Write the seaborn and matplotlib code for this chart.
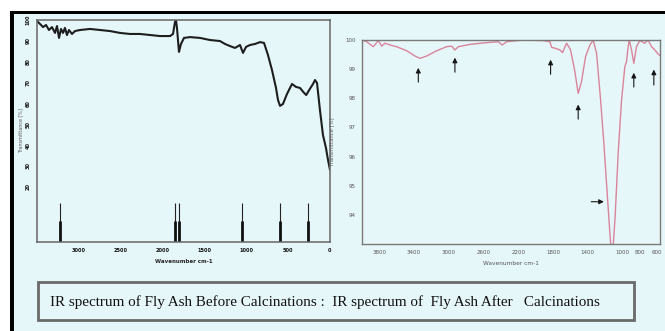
import matplotlib
matplotlib.use("Agg")
import matplotlib.pyplot as plt
import seaborn as sns
import pandas as pd
from matplotlib.patches import Rectangle
from matplotlib.lines import Line2D

sns.set_style("white")
plt.rcParams['font.family'] = ['DejaVu Sans']

BG = "#e6f7fa"

# ---------------- data: before calcination (left) ----------------
before_wn = [3500, 3464, 3428, 3392, 3357, 3321, 3285, 3261, 3237, 3213, 3189, 3166, 3142, 3118,
             3082, 3046, 2986, 2867, 2747, 2628, 2509, 2389, 2270, 2150, 2031, 1911, 1875, 1852,
             1840, 1828, 1804, 1780, 1744, 1672, 1553, 1433, 1314, 1254, 1195, 1135, 1075, 1039,
             1003, 956, 896, 836, 788, 741, 693, 645, 621, 597, 562, 514, 454, 406, 358, 320, 284,
             249, 203, 179, 155, 120, 84, 48, 24, 0]
before_T = [99.5, 98.1, 96.6, 97.6, 95.2, 96.6, 93.8, 97.1, 91.4, 95.7, 93.8, 96.2, 92.8, 95.2,
            93.3, 94.7, 95.2, 95.7, 95.2, 94.7, 93.8, 93.3, 93.3, 92.8, 92.3, 92.3, 93.3, 99.0,
            100.0, 96.2, 84.7, 88.5, 91.4, 91.8, 91.4, 90.4, 89.9, 88.5, 87.5, 86.6, 88.0, 84.2,
            87.1, 88.0, 88.5, 89.4, 89.0, 83.2, 76.0, 67.4, 61.6, 58.8, 59.7, 64.5, 69.3, 67.9,
            67.4, 65.5, 64.0, 66.4, 69.3, 71.2, 69.8, 56.8, 44.8, 38.6, 32.9, 28.1]
before_peaks = [3225, 1852, 1804, 1051, 597, 263]
before_xticks = [3000, 2500, 2000, 1500, 1000, 500, 0]
before_yticks = [100, 90, 80, 70, 60, 50, 40, 30, 20]

# ---------------- data: after calcination (right) ----------------
after_wn = [3996, 3946, 3870, 3812, 3773, 3735, 3677, 3600, 3485, 3389, 3332, 3255, 3140, 3024,
            2967, 2929, 2890, 2756, 2564, 2430, 2384, 2333, 2142, 1912, 1834, 1815, 1777, 1719,
            1688, 1642, 1596, 1546, 1508, 1470, 1423, 1373, 1335, 1296, 1250, 1212, 1174, 1143,
            1131, 1105, 1082, 1047, 1008, 970, 951, 932, 920, 893, 867, 836, 798, 740, 702, 663,
            625, 587, 548]
after_T = [100.0, 99.94, 99.77, 99.98, 99.79, 99.89, 99.83, 99.77, 99.63, 99.45, 99.37, 99.45,
           99.63, 99.77, 99.79, 99.66, 99.77, 99.85, 99.91, 99.94, 99.83, 99.94, 100.0, 99.98,
           99.94, 99.75, 99.72, 99.66, 99.57, 99.89, 99.66, 98.91, 98.17, 98.57, 99.43, 99.83,
           100.0, 99.54, 97.95, 96.46, 94.75, 93.39, 92.92, 92.92, 93.95, 96.12, 97.95, 99.09,
           99.26, 99.77, 100.0, 99.66, 99.20, 99.77, 99.98, 99.89, 100.0, 99.77, 99.66, 99.52,
           99.43]
arrow_wn = [3351, 2929, 1826, 1508, 867, 636]
arrow_tip = [99.14, 99.49, 99.42, 97.88, 98.97, 99.08]
arrow_tail = [98.46, 98.80, 98.73, 97.19, 98.29, 98.36]
harrow_from = [1390, 94.45]
harrow_to = [1180, 94.45]
after_xticks = [3800, 3600, 3400, 3200, 3000, 2800, 2600, 2400, 2200, 2000, 1800, 1600, 1400,
                1200, 1000, 800, 600]
after_xlabels = ["3800", "", "3400", "", "3000", "", "2600", "", "2200", "", "1800", "", "1400",
                 "", "1000", "800", "600"]
after_yticks = [94, 95, 96, 97, 98, 99, 100]

caption = "IR spectrum of Fly Ash Before Calcinations :  IR spectrum of  Fly Ash After   Calcinations"

W, H = 665, 331
fig = plt.figure(figsize=(W / 100, H / 100), dpi=100)
fig.patch.set_facecolor(BG)

def px_axes(x0, y0, x1, y1):
    return fig.add_axes([x0 / W, 1 - y1 / H, (x1 - x0) / W, (y1 - y0) / H])

# white outer margin and black frame lines (top and left)
fig.add_artist(Rectangle((0, 1 - 11 / H), 1, 11 / H, transform=fig.transFigure,
                         facecolor="white", edgecolor="none"))
fig.add_artist(Rectangle((0, 0), 10 / W, 1, transform=fig.transFigure,
                         facecolor="white", edgecolor="none"))
fig.add_artist(Rectangle((10 / W, 1 - 14 / H), 1 - 10 / W, 3 / H, transform=fig.transFigure,
                         facecolor="black", edgecolor="none"))
fig.add_artist(Rectangle((10 / W, 0), 3.5 / W, 1 - 11 / H, transform=fig.transFigure,
                         facecolor="black", edgecolor="none"))

# ---------------- left panel ----------------
axL = px_axes(37, 20, 330, 242)
axL.set_facecolor(BG)
dfb = pd.DataFrame({"wn": before_wn, "T": before_T})
sns.lineplot(data=dfb, x="wn", y="T", ax=axL, color="#1e1e1e", lw=1.5, sort=False,
             estimator=None)
axL.set_xlim(3500, 0)
axL.set_ylim(-6.5, 100)
axL.vlines(before_peaks, -6.5, 12.2, color="#222222", lw=0.8)
axL.vlines(before_peaks, -6.5, 3.5, color="#111111", lw=2.0)
axL.set_xticks(before_xticks)
axL.set_xticklabels([str(v) for v in before_xticks], fontsize=3.6, fontweight="bold")
axL.set_yticks(before_yticks)
axL.set_yticklabels([str(v) for v in before_yticks], fontsize=3.6, fontweight="bold",
                    rotation=90, va="center")
axL.tick_params(axis="both", direction="out", length=2.5, width=0.7, pad=2, colors="#111111")
axL.set_xlabel("Wavenumber cm-1", fontsize=4, fontweight="bold", labelpad=4)
axL.set_ylabel("Transmittance [%]", fontsize=3.5, color="#555555", labelpad=2)
for s in axL.spines.values():
    s.set_color("#666666")
    s.set_linewidth(1.1)

# ---------------- right panel ----------------
axR = px_axes(362, 40, 660, 244)
axR.set_facecolor(BG)
dfa = pd.DataFrame({"wn": after_wn, "T": after_T})
sns.lineplot(data=dfa, x="wn", y="T", ax=axR, color="#d9849a", lw=1.0, sort=False,
             estimator=None)
axR.set_xlim(4000, 565)
axR.set_ylim(93.0, 100.0)
for xw, tp, tl in zip(arrow_wn, arrow_tip, arrow_tail):
    axR.annotate("", xy=(xw, tp), xytext=(xw, tl),
                 arrowprops=dict(arrowstyle="-|>", color="#151515", lw=0.8,
                                 mutation_scale=7))
axR.annotate("", xy=tuple(harrow_to), xytext=tuple(harrow_from),
             arrowprops=dict(arrowstyle="-|>", color="#151515", lw=0.8, mutation_scale=7))
axR.set_xticks(after_xticks)
axR.set_xticklabels(after_xlabels, fontsize=4, color="#555555")
axR.set_yticks(after_yticks)
axR.set_yticklabels([str(v) for v in after_yticks], fontsize=4, color="#555555")
axR.tick_params(axis="both", direction="out", length=2.5, width=0.7, pad=2, colors="#555555")
axR.tick_params(axis="both", labelcolor="#555555")
axR.set_xlabel("Wavenumber cm-1", fontsize=4.2, color="#555555", labelpad=4)
axR.set_ylabel("Transmittance [%]", fontsize=3.8, color="#555555", labelpad=8)
for s in axR.spines.values():
    s.set_color("#7a7a7a")
    s.set_linewidth(1.0)

# ---------------- caption box ----------------
fig.add_artist(Rectangle((38 / W, 1 - 320 / H), (634 - 38) / W, (320 - 282) / H,
                         transform=fig.transFigure, facecolor=BG, edgecolor="#6a6a6a",
                         lw=2.0))
fig.text(325 / W, 1 - 302 / H, caption, ha="center", va="center", fontsize=10.9,
         family=["Liberation Serif", "DejaVu Serif"], color="#111111")

fig.savefig("out.png", dpi=100, facecolor=fig.get_facecolor())
